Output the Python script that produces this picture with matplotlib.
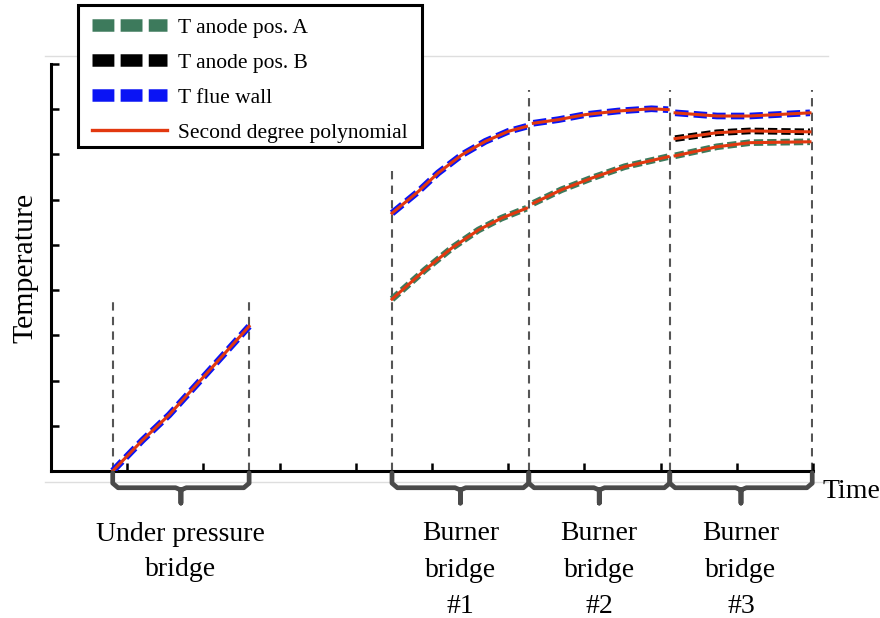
import numpy as np
import matplotlib
matplotlib.use("Agg")
import matplotlib.pyplot as plt
from matplotlib.lines import Line2D
from matplotlib.patches import Rectangle

plt.rcParams['font.family'] = ['Liberation Serif', 'DejaVu Serif']

# Values (time in tick units, temperature in tick units)
up_x = [0.81, 1.2, 1.55, 2.05, 2.6]
up_flue = [0.0, 0.68, 1.24, 2.17, 3.2]

b1_x = [4.475, 4.82, 5.08, 5.39, 5.70, 6.0, 6.24]
b1_flue = [5.70, 6.18, 6.59, 6.99, 7.29, 7.51, 7.62]
b1a_x = [4.475, 4.91, 5.26, 5.61, 5.91, 6.24]
b1_anode_a = [3.80, 4.45, 4.93, 5.33, 5.59, 5.81]

b2_x = [6.33, 6.66, 7.01, 7.44, 7.88, 8.10]
b2_flue = [7.69, 7.77, 7.88, 7.96, 8.01, 7.99]
b2a_x = [6.33, 6.70, 7.10, 7.53, 8.10]
b2_anode_a = [5.92, 6.22, 6.48, 6.73, 6.95]

b3_x = [8.19, 8.74, 9.17, 9.96]
b3_flue = [7.92, 7.85, 7.85, 7.92]
b3_anode_a = [6.97, 7.17, 7.26, 7.28]
b3_anode_b = [7.35, 7.48, 7.52, 7.50]

# boundaries of the bridges and how high the marker lines go
bounds = [0.81, 2.6, 4.475, 6.27, 8.12, 9.99]
bound_tops = [3.8, 3.8, 6.73, 8.43, 8.43, 8.43]

bridges = [(0.81, 2.6), (4.475, 6.27), (6.27, 8.12), (8.12, 9.99)]
bridge_labels = ["Under pressure\nbridge", "Burner\nbridge\n#1", "Burner\nbridge\n#2", "Burner\nbridge\n#3"]

GREEN = '#3d7a5c'
BLUE = '#0a14f5'
RED = '#e2380f'

fig = plt.figure(figsize=(8.8, 6.18), dpi=100)
ax = fig.add_axes([51/880, 1-471/618, 762/880, 407/618])
ax.patch.set_visible(False)

# faint grey rules of the original scan
for yy in [56, 482]:
    fig.add_artist(Line2D([45/880, 828/880], [1-yy/618]*2, color='#dedede', lw=1, zorder=-1))

# bridge boundaries
for xb, top in zip(bounds, bound_tops):
    ax.plot([xb, xb], [0, top], color='#555555', lw=1.5, dashes=(4, 3), zorder=1)

dash_kw = dict(lw=4.8, dashes=(1.4, 0.6), solid_capstyle='butt')
for x, y in [(b1a_x, b1_anode_a), (b2a_x, b2_anode_a), (b3_x, b3_anode_a)]:
    ax.plot(x, y, color=GREEN, zorder=2, **dash_kw)
ax.plot(b3_x, b3_anode_b, color='black', zorder=2, **dash_kw)
for x, y in [(up_x, up_flue), (b1_x, b1_flue), (b2_x, b2_flue), (b3_x, b3_flue)]:
    ax.plot(x, y, color=BLUE, zorder=3, lw=4.8, dashes=(2.0, 0.8))

# second degree polynomial fits
for x, y in [(up_x, up_flue), (b1_x, b1_flue), (b1a_x, b1_anode_a), (b2_x, b2_flue),
             (b2a_x, b2_anode_a), (b3_x, b3_flue), (b3_x, b3_anode_a), (b3_x, b3_anode_b)]:
    ax.plot(x, y, color=RED, lw=2.2, zorder=4)

# braces under the axis
for (x0, x1), lab in zip(bridges, bridge_labels):
    xc = (x0 + x1) / 2
    r = 0.07
    xs = [x0, x0, x0 + r, xc - r, xc, xc, xc, xc + r, x1 - r, x1, x1]
    ys = [-0.04, -0.27, -0.37, -0.37, -0.42, -0.71, -0.42, -0.37, -0.37, -0.27, -0.04]
    ax.plot(xs, ys, color='#4a4a4a', lw=3.4, clip_on=False, solid_joinstyle='round',
            solid_capstyle='round', zorder=5)
    if lab.count('\n') == 1:
        ax.text(xc, -1.80, lab, ha='center', va='center', fontsize=20, linespacing=1.53)
    else:
        ax.text(xc, -2.19, lab, ha='center', va='center', fontsize=20, linespacing=1.62)

ax.text(10.12, -0.46, 'Time', ha='left', va='center', fontsize=20)
fig.text(25/880, 1-268/618, 'Temperature', rotation=90, ha='center', va='center', fontsize=21.5)

ax.set_xlim(0, 10)
ax.set_ylim(0, 9)
for s in ['top', 'right']:
    ax.spines[s].set_visible(False)
for s in ['left', 'bottom']:
    ax.spines[s].set_linewidth(2.2)
ax.set_xticks(np.arange(1, 11))
ax.set_yticks(np.arange(1, 10))
ax.tick_params(direction='in', length=6, width=1.8, labelbottom=False, labelleft=False)

# legend box drawn separately so its size matches the original
fig.add_artist(Rectangle((78/880, 1-147/618), 344/880, 142/618, transform=fig.transFigure,
                         facecolor='white', edgecolor='black', lw=2.2, zorder=9))
handles = [
    Line2D([], [], color=GREEN, lw=9, dashes=(1.75, 0.5)),
    Line2D([], [], color='black', lw=9, dashes=(1.75, 0.5)),
    Line2D([], [], color=BLUE, lw=9, dashes=(1.75, 0.5)),
    Line2D([], [], color=RED, lw=2.4),
]
labels = ['T anode pos. A', 'T anode pos. B', 'T flue wall', 'Second degree polynomial']
leg = fig.legend(handles, labels, loc='upper left', bbox_to_anchor=(81/880, 1-7/618),
                 borderaxespad=0, fontsize=15.5, handlelength=3.5, handletextpad=0.5,
                 labelspacing=0.69, borderpad=0.5, frameon=False)
leg.set_zorder(10)

fig.savefig('out.png', dpi=100)
